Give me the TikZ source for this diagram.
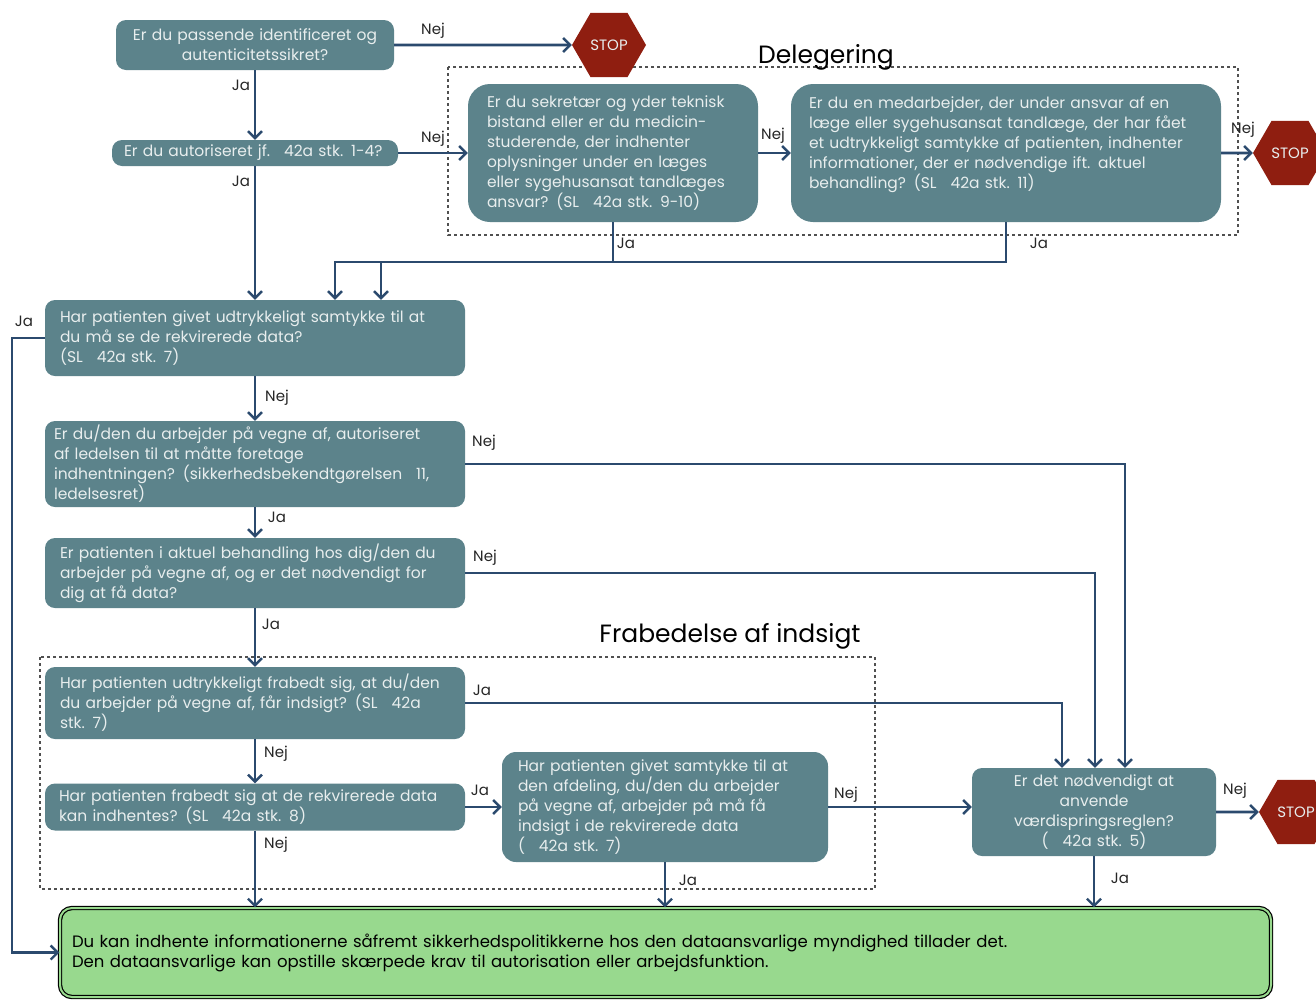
\documentclass[tikz,border=0pt]{standalone}
\usepackage{fontspec}
\setmainfont{Poppins}
\usetikzlibrary{shapes.geometric,arrows.meta}

\definecolor{boxteal}{HTML}{5C838B}
\definecolor{boxtext}{HTML}{E8EEEE}
\definecolor{stopred}{HTML}{8F1E10}
\definecolor{flownavy}{HTML}{2B4A6E}
\definecolor{donegreen}{HTML}{98D98E}
\definecolor{framegray}{HTML}{505050}

\newcommand{\paragap}{\hspace{0.9em}}
\newcommand{\fullline}[1]{\makebox[\hsize][s]{#1}}

\begin{document}
\begin{tikzpicture}[x=1pt,y=-1pt,
    question/.style={rectangle,rounded corners=10pt,fill=boxteal,text=boxtext,inner ysep=0pt,font=\fontsize{15.5}{20}\selectfont},
    stopsign/.style={regular polygon,regular polygon sides=6,minimum size=74pt,inner sep=0pt,fill=stopred,text=boxtext,font=\fontsize{15}{18}\selectfont},
    done/.style={rectangle,rounded corners=12pt,fill=donegreen,draw=black,double=donegreen,double distance=2pt,line width=1.2pt,inner ysep=0pt,font=\fontsize{16.5}{20}\selectfont,align=left},
    flow/.style={draw=flownavy,line width=2.6pt,-{Straight Barb[length=7pt,width=14pt,line width=2.4pt]}},
    lbl/.style={font=\fontsize{15}{16}\selectfont,text=black!85,inner sep=1pt},
    group/.style={draw=framegray,dashed,line width=1.6pt},
    grouptitle/.style={font=\fontsize{25}{26}\selectfont,text=black}]
  \useasboundingbox (0,0) rectangle (1316,999);

  % groups
  \draw[group] (448,67) rectangle (1238,235);
  \node[grouptitle] (deltitle) at (826,57) {Delegering};
  \draw[group] (40,657) rectangle (875,889);
  \node[grouptitle] (fratitle) at (730,636) {Frabedelse af indsigt};

  % questions
  \node[question,text width=250pt,inner xsep=14pt,minimum height=50pt,align=center] (ident) at (255,45)
    {Er du passende identificeret og\\autenticitetssikret?};
  \node[question,text width=262pt,inner xsep=12pt,minimum height=26pt,align=left] (autor) at (255,153)
    {Er du autoriseret jf.\paragap42a stk. 1-4?};
  \node[question,rounded corners=22pt,text width=252pt,inner xsep=19pt,minimum height=138pt,align=left] (sekr) at (613,153)
    {Er du sekretær og yder teknisk\\bistand eller er du medicin-\\studerende, der indhenter\\oplysninger under en læges\\eller sygehusansat tandlæges\\ansvar? (SL\paragap42a stk. 9-10)};
  \node[question,rounded corners=22pt,text width=394pt,inner xsep=18pt,minimum height=138pt,align=left] (medarb) at (1006,153)
    {\fullline{Er du en medarbejder, der under ansvar af en}\\\fullline{læge eller sygehusansat tandlæge, der har fået}\\\fullline{et udtrykkeligt samtykke af patienten, indhenter}\\\fullline{informationer, der er nødvendige ift. aktuel}\\behandling? (SL\paragap42a stk. 11)\\\mbox{}};
  \node[stopsign] (stopA) at (609,45) {STOP};
  \node[stopsign] (stopB) at (1290,153) {STOP};

  \node[question,text width=390pt,inner xsep=15pt,minimum height=76pt,align=left] (samtykke) at (255,338)
    {Har patienten givet udtrykkeligt samtykke til at\\du må se de rekvirerede data?\\(SL\paragap42a stk. 7)};
  \node[question,text width=402pt,inner xsep=9pt,minimum height=86pt,align=left] (ledelse) at (255,464)
    {Er du/den du arbejder på vegne af, autoriseret\\af ledelsen til at måtte foretage\\indhentningen? (sikkerhedsbekendtgørelsen\paragap11,\\ledelsesret)};
  \node[question,text width=390pt,inner xsep=15pt,minimum height=70pt,align=left] (behandling) at (255,573)
    {Er patienten i aktuel behandling hos dig/den du\\arbejder på vegne af, og er det nødvendigt for\\dig at få data?};
  \node[question,text width=390pt,inner xsep=15pt,minimum height=72pt,align=left] (frabedt) at (255,703)
    {Har patienten udtrykkeligt frabedt sig, at du/den\\du arbejder på vegne af, får indsigt? (SL\paragap42a\\stk. 7)};
  \node[question,text width=392pt,inner xsep=14pt,minimum height=47pt,align=left] (indhentes) at (255,807)
    {Har patienten frabedt sig at de rekvirerede data\\kan indhentes? (SL\paragap42a stk. 8)};
  \node[question,rounded corners=14pt,text width=294pt,inner xsep=16pt,minimum height=110pt,align=left] (afdeling) at (665,807)
    {Har patienten givet samtykke til at\\den afdeling, du/den du arbejder\\på vegne af, arbejder på må få\\indsigt i de rekvirerede data\\(\paragap42a stk. 7)};
  \node[question,text width=220pt,inner xsep=12pt,minimum height=88pt,align=center] (vaerdi) at (1094,812)
    {Er det nødvendigt at\\anvende\\værdispringsreglen?\\(\paragap42a stk. 5)};
  \node[stopsign] (stopC) at (1296,812) {STOP};

  \node[done,text width=1187pt,inner xsep=12pt,minimum height=89pt] (tilladt) at (665.5,952.5)
    {Du kan indhente informationerne såfremt sikkerhedspolitikkerne hos den dataansvarlige myndighed tillader det.\\Den dataansvarlige kan opstille skærpede krav til autorisation eller arbejdsfunktion.};

  % connectors
  \coordinate (joinA) at (335,262);
  \coordinate (joinB) at (381,262);
  \coordinate (rail) at (12,338);
  \draw[flow] (ident) -- (stopA);
  \draw[flow] (ident) -- (autor);
  \draw[flow] (autor) -- (sekr);
  \draw[flow] (sekr) -- (medarb);
  \draw[flow] (medarb) -- (stopB);
  \draw[flow] (sekr.south) |- (joinA) -- (joinA |- samtykke.north);
  \draw[flow] (medarb.south) |- (joinB) -- (joinB |- samtykke.north);
  \draw[flow] (autor) -- (samtykke);
  \draw[flow] (samtykke.west) -- (rail) |- (tilladt.west);
  \draw[flow] (samtykke) -- (ledelse);
  \draw[flow] (ledelse) -- (behandling);
  \draw[flow] (behandling) -- (frabedt);
  \draw[flow] (frabedt) -- (indhentes);
  \draw[flow] (indhentes) -- (indhentes |- tilladt.north);
  \draw[flow] (ledelse.east) -| ([xshift=31pt]vaerdi.north);
  \draw[flow] (behandling.east) -| ([xshift=1pt]vaerdi.north);
  \draw[flow] (frabedt.east) -| ([xshift=-32pt]vaerdi.north);
  \draw[flow] (indhentes) -- (afdeling);
  \draw[flow] (afdeling.east) -- (afdeling.east -| vaerdi.west);
  \draw[flow] (afdeling) -- (afdeling |- tilladt.north);
  \draw[flow] (vaerdi) -- (stopC);
  \draw[flow] (vaerdi) -- (vaerdi |- tilladt.north);

  % answers
  \foreach \x/\y/\t [count=\i] in {433/31/Nej,241/85/Ja,433/139/Nej,241/181/Ja,773/136/Nej,1243/130/Nej,
      626/243/Ja,1039/243/Ja,24/321/Ja,277/398/Nej,484/443/Nej,277/517/Ja,485/558/Nej,271/624/Ja,
      482/690/Ja,276/754/Nej,480/790/Ja,276/845/Nej,846/795/Nej,688/880/Ja,1235/791/Nej,1120/878/Ja}
    \node[lbl] (answer\i) at (\x,\y) {\t};
\end{tikzpicture}
\end{document}
